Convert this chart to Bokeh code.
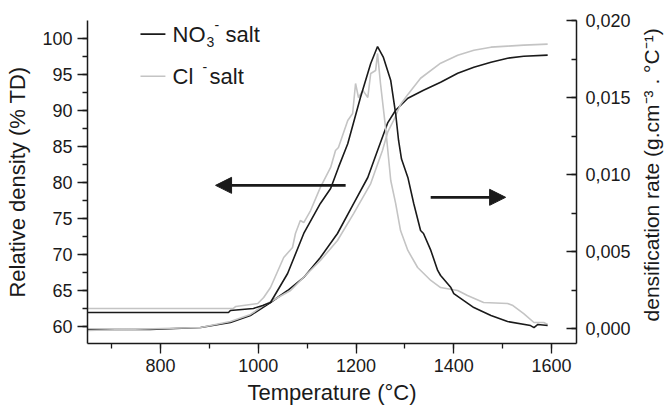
import math
from bokeh.plotting import figure
from bokeh.layouts import row
from bokeh.models import Range1d, LinearAxis, FixedTicker, CustomJSTickFormatter, Arrow, NormalHead, Label
from bokeh.core.properties import value
from bokeh.embed import file_html
from bokeh.resources import INLINE

FONT = "Liberation Sans"

# --- data ---
no3_rate_t = [650, 939, 943, 990, 1009, 1025, 1060, 1093, 1127, 1148, 1164, 1183, 1209,
              1230, 1244, 1256, 1271, 1281, 1287, 1293, 1306, 1318, 1332, 1338, 1353, 1367, 1373,
              1394, 1400, 1441, 1476, 1510, 1557, 1564, 1572, 1592]
no3_rate_v = [0.00104, 0.00104, 0.00117, 0.00130, 0.00150, 0.00169, 0.00357, 0.00617, 0.00812,
              0.00909, 0.01046, 0.01200, 0.01500, 0.01721, 0.01831, 0.01760, 0.01610, 0.01396,
              0.01221, 0.01100, 0.00981, 0.00812, 0.00636, 0.00617, 0.00507, 0.00377, 0.00344, 0.00266,
              0.00227, 0.00136, 0.00084, 0.00045, 0.00019, 0.00006, 0.00026, 0.00019]

cl_rate_t = [650, 949, 954, 999, 1011, 1025, 1052, 1070, 1076, 1086, 1093, 1107, 1127, 1148, 1158,
             1164, 1183, 1193, 1199, 1205, 1214, 1224, 1230, 1240, 1244, 1250, 1261, 1271, 1281,
             1291, 1306, 1326, 1353, 1373, 1408, 1428, 1461, 1510, 1521, 1543, 1564, 1584, 1592]
cl_rate_v = [0.00130, 0.00130, 0.00143, 0.00162, 0.00201, 0.00266, 0.00461, 0.00526, 0.00617, 0.00701,
             0.00688, 0.00766, 0.00916, 0.01046, 0.01156, 0.01175, 0.01351, 0.01396, 0.01591, 0.01500,
             0.01546, 0.01500, 0.01656, 0.01675, 0.01786, 0.01591, 0.01286, 0.00961, 0.00812, 0.00636,
             0.00507, 0.00396, 0.00312, 0.00266, 0.00247, 0.00214, 0.00169, 0.00162, 0.00149, 0.00097,
             0.00039, 0.00039, 0.00026]

no3_dens_t = [650, 779, 882, 943, 984, 1025, 1060, 1093, 1127, 1162, 1195, 1224, 1244, 1265, 1281,
              1306, 1338, 1373, 1408, 1441, 1476, 1510, 1543, 1592]
no3_dens_v = [59.58, 59.58, 59.86, 60.56, 61.53, 63.33, 64.99, 66.80, 69.57, 72.90, 77.06, 80.67,
              84.41, 88.29, 90.00, 91.67, 92.78, 93.89, 95.14, 95.97, 96.67, 97.22, 97.50, 97.64]

cl_dens_t = [650, 882, 943, 984, 1011, 1066, 1127, 1162, 1195, 1230, 1254, 1265, 1277, 1291, 1306, 1332,
             1373, 1408, 1441, 1476, 1510, 1543, 1592]
cl_dens_v = [59.44, 59.86, 60.69, 61.67, 62.92, 64.99, 69.15, 71.93, 75.67, 79.83, 84.41, 87.00, 88.61,
             90.80, 92.20, 94.44, 96.53, 97.64, 98.33, 98.75, 98.89, 99.03, 99.17]

x_ticks = [800, 1000, 1200, 1400, 1600]
y_ticks = [60, 65, 70, 75, 80, 85, 90, 95, 100]
r_ticks = [0.0, 0.005, 0.010, 0.015, 0.020]

x_title = "Temperature (°C)"
y_title = "Relative density (% TD)"
r_title = "densification rate (g.cm\u207b\u00b3 . \u00b0C\u207b\u00b9)"
legend_labels = ["NO", "3", "-", "salt", "Cl", "-", "salt"]

BLACK = "#1a1a1a"
GREY = "#c4c4c4"
TXT = "#1a1a1a"

p = figure(width=638, height=410, output_backend="svg", toolbar_location=None,
           x_range=Range1d(650.6, 1651), y_range=Range1d(57.64, 102.45),
           min_border_left=87, min_border_top=20, min_border_right=62, min_border_bottom=67)
p.outline_line_color = None
p.grid.visible = False
p.background_fill_color = "white"
p.border_fill_color = "white"

p.extra_y_ranges = {"rate": Range1d(-0.000974, 0.020)}

# curves
p.line(no3_dens_t, no3_dens_v, line_color=BLACK, line_width=1.6)
p.line(cl_dens_t, cl_dens_v, line_color=GREY, line_width=1.6)
p.line(cl_rate_t, cl_rate_v, line_color=GREY, line_width=1.6, y_range_name="rate")
p.line(no3_rate_t, no3_rate_v, line_color=BLACK, line_width=1.6, y_range_name="rate")

def style_axis(ax, title, size):
    ax.axis_line_color = BLACK
    ax.axis_line_width = 1.5
    ax.major_tick_line_color = BLACK
    ax.minor_tick_line_color = BLACK
    ax.major_tick_line_width = 1.3
    ax.minor_tick_line_width = 1.3
    ax.major_label_text_font = FONT
    ax.major_label_text_font_size = "18px"
    ax.major_label_text_color = TXT
    if title:
        ax.axis_label = title
        ax.axis_label_text_font = FONT
        ax.axis_label_text_font_size = size
        ax.axis_label_text_font_style = "normal"
        ax.axis_label_text_color = TXT

xa = p.xaxis[0]
style_axis(xa, x_title, "22px")
xa.ticker = FixedTicker(ticks=x_ticks, minor_ticks=list(range(700, 1700, 100)))
xa.major_tick_in = 0
xa.major_tick_out = 10
xa.minor_tick_in = 0
xa.minor_tick_out = 5
xa.major_label_standoff = 5
xa.axis_label_standoff = 5

ya = p.yaxis[0]
style_axis(ya, y_title, "22px")
ya.ticker = FixedTicker(ticks=y_ticks, minor_ticks=[57.5 + 2.5 * i for i in range(19)])
ya.major_tick_in = 0
ya.major_tick_out = 10
ya.minor_tick_in = 0
ya.minor_tick_out = 5
ya.major_label_standoff = 5
ya.axis_label_standoff = 9

ra = LinearAxis(y_range_name="rate")
style_axis(ra, None, None)
ra.ticker = FixedTicker(ticks=r_ticks, minor_ticks=[0.0025 * i for i in range(9)])
ra.formatter = CustomJSTickFormatter(code="return tick.toFixed(3).replace('.', ',');")
ra.major_tick_in = 10
ra.major_tick_out = 0
ra.minor_tick_in = 5
ra.minor_tick_out = 0
ra.major_label_standoff = 9
p.add_layout(ra, "right")

# arrows
p.add_layout(Arrow(end=NormalHead(size=16, fill_color=BLACK, line_color=BLACK),
                   x_start=1178.7, y_start=79.58, x_end=912.6, y_end=79.58,
                   line_color=BLACK, line_width=2.8))
p.add_layout(Arrow(end=NormalHead(size=16, fill_color=BLACK, line_color=BLACK),
                   x_start=1352.7, y_start=77.92, x_end=1506, y_end=77.92,
                   line_color=BLACK, line_width=2.8))

# legend (manual)
p.line([759, 810], [100.56, 100.56], line_color=BLACK, line_width=1.6)
p.line([759, 810], [94.72, 94.72], line_color=GREY, line_width=1.6)
tk = dict(text_font=value(FONT), text_color=TXT, text_baseline="middle", text_align="left")
p.text([824.6], [100.56], text=[legend_labels[0]], text_font_size="22px", **tk)
p.text([824.6], [100.56], text=[legend_labels[1]], text_font_size="14px", x_offset=34, y_offset=8, **tk)
p.text([824.6], [100.56], text=[legend_labels[2]], text_font_size="14px", x_offset=42, y_offset=-9, **tk)
p.text([824.6], [100.56], text=[legend_labels[3]], text_font_size="22px", x_offset=53, **tk)
p.text([824.6], [94.72], text=[legend_labels[4]], text_font_size="22px", **tk)
p.text([824.6], [94.72], text=[legend_labels[5]], text_font_size="14px", x_offset=30, y_offset=-9, **tk)
p.text([824.6], [94.72], text=[legend_labels[6]], text_font_size="22px", x_offset=37, **tk)

# right-hand axis title in a narrow side panel (reads bottom to top)
q = figure(width=29, height=410, output_backend="svg", toolbar_location=None,
           x_range=Range1d(0, 29), y_range=Range1d(0, 410),
           x_axis_type=None, y_axis_type=None,
           min_border_left=0, min_border_right=0, min_border_top=0, min_border_bottom=0)
q.outline_line_color = None
q.grid.visible = False
q.add_layout(Label(x=13, y=214, text=r_title, angle=math.pi / 2, text_font=FONT,
                   text_font_size="21px", text_color=TXT, text_align="center",
                   text_baseline="middle"))

layout = row(p, q, spacing=0)
open("out.html", "w").write(file_html(layout, INLINE))
